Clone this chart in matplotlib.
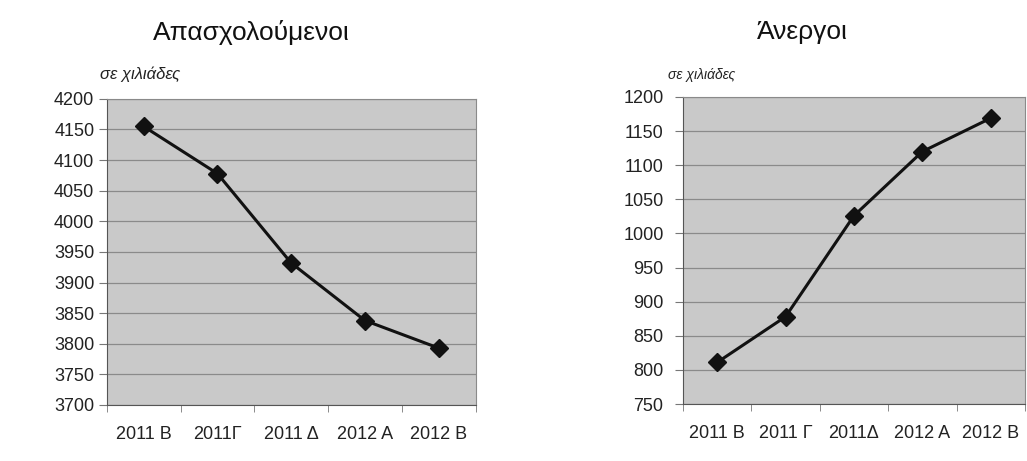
import matplotlib.pyplot as plt

# values (thousands)
quarters_left = ["2011 B", "2011Γ", "2011 Δ", "2012 A", "2012 B"]
quarters_right = ["2011 B", "2011 Γ", "2011Δ", "2012 A", "2012 B"]
employed = [4155, 4078, 3932, 3838, 3793]
unemployed = [811, 878, 1026, 1120, 1169]

plt.rcParams['font.family'] = ['Liberation Sans', 'DejaVu Sans']


def style_axes(ax, labels, ylim, step, ypad):
    ax.set_facecolor('#c9c9c9')
    ax.set_xlim(-0.5, len(labels) - 0.5)
    ax.set_ylim(*ylim)
    ax.set_yticks(range(ylim[0], ylim[1] + 1, step))
    ax.set_xticks(range(len(labels)))
    ax.set_xticklabels(labels)
    # category boundaries get the tick marks, like a spreadsheet chart
    ax.set_xticks([i - 0.5 for i in range(len(labels) + 1)], minor=True)
    ax.tick_params(axis='x', which='major', length=0, pad=15, labelsize=13,
                   labelcolor='#222222')
    ax.tick_params(axis='x', which='minor', length=5, color='#777777')
    ax.tick_params(axis='y', length=6, color='#777777', labelsize=13, pad=ypad,
                   labelcolor='#222222')
    ax.grid(axis='y', color='#8a8a8a', linewidth=0.9)
    ax.set_axisbelow(True)
    for s in ax.spines.values():
        s.set_color('#8a8a8a')
    ax.spines['left'].set_color('#555555')
    ax.spines['bottom'].set_color('#555555')


fig = plt.figure(figsize=(10.27, 4.61), dpi=100)

ax1 = fig.add_axes([0.104, 0.1215, 0.359, 0.664])
ax1.plot(range(len(employed)), employed, color='#111111', lw=2.2,
         marker='D', markersize=9, markerfacecolor='#111111', markeredgecolor='#111111')
style_axes(ax1, quarters_left, (3700, 4200), 50, 3)
fig.text(0.245, 0.93, "Απασχολούμενοι", fontsize=19, ha='center', va='center', color='#111111')
fig.text(0.097, 0.838, "σε χιλιάδες", fontsize=12, style='italic', ha='left', va='center', color='#222222')

ax2 = fig.add_axes([0.665, 0.1236, 0.333, 0.666])
ax2.plot(range(len(unemployed)), unemployed, color='#111111', lw=2.2,
         marker='D', markersize=9, markerfacecolor='#111111', markeredgecolor='#111111')
style_axes(ax2, quarters_right, (750, 1200), 50, 8)
fig.text(0.781, 0.93, "Άνεργοι", fontsize=19, ha='center', va='center', color='#111111')
fig.text(0.65, 0.838, "σε χιλιάδες", fontsize=10, style='italic', ha='left', va='center', color='#222222')

fig.savefig("out.png", dpi=100, facecolor='white')
